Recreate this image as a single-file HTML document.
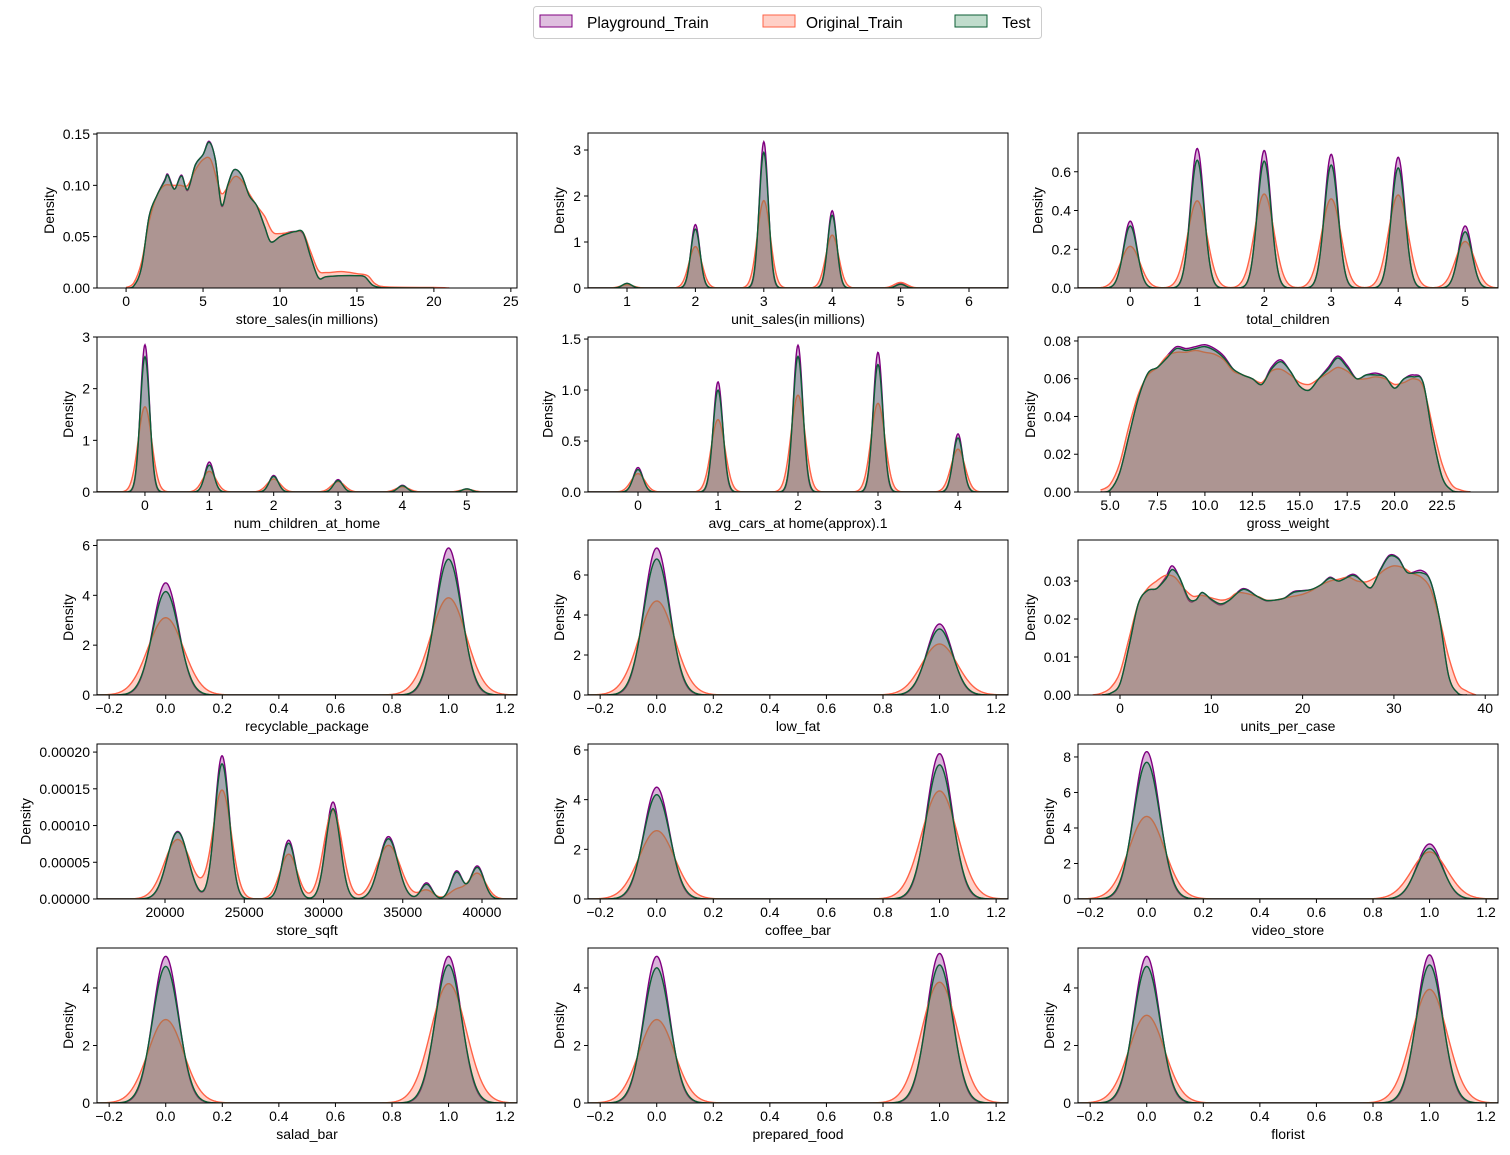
<!DOCTYPE html>
<html><head><meta charset="utf-8"><style>
html,body{margin:0;padding:0;background:#fff;}
svg{display:block;font-family:"Liberation Sans","DejaVu Sans",sans-serif;}
</style></head><body>
<svg id="fig" width="1510" height="1155" viewBox="0 0 1510 1155" xmlns="http://www.w3.org/2000/svg">
<g>
<rect x="533.5" y="6.5" width="508" height="32" rx="3" fill="#fff" stroke="#cccccc"/>
<g><rect x="540" y="15" width="32" height="12" fill="rgba(128,0,128,0.25)" stroke="#800080"/><text x="587" y="28" font-size="15.5">Playground_Train</text></g>
<g><rect x="763" y="15" width="32" height="12" fill="rgba(255,99,71,0.3)" stroke="#ff6347"/><text x="806" y="28" font-size="15.5">Original_Train</text></g>
<g><rect x="955" y="15" width="32" height="12" fill="rgba(46,139,87,0.3)" stroke="#0b5e35"/><text x="1002" y="28" font-size="15.5">Test</text></g>
</g>
<g id="plots"></g>
</svg>
<script>
// ---------- data ----------
const seriesNames = ["Playground_Train","Original_Train","Test"];
// continuous: store_sales
const ssX_play = [0,0.5,1,1.5,2,2.5,2.7,3,3.2,3.6,4,4.5,5,5.4,5.8,6.2,6.6,7,7.5,8,8.5,9,9.4,10,10.5,11,11.5,12,12.5,13,14,15,15.5,16,16.5,17,20];
const ssY_play = [0,0.002,0.02,0.07,0.09,0.105,0.111,0.1,0.097,0.11,0.095,0.12,0.13,0.143,0.125,0.08,0.1,0.115,0.11,0.09,0.08,0.06,0.045,0.05,0.054,0.055,0.053,0.03,0.01,0.011,0.012,0.012,0.011,0.003,0.0005,0.0002,0];
const ssX_orig = [0,0.5,1,1.5,2,2.5,3,3.5,4,4.5,5,5.5,6,6.3,7,7.5,8,8.5,9,9.5,10,11,11.5,12,12.5,13,14,15,15.7,16.2,17,20,21];
const ssY_orig = [0.0005,0.005,0.025,0.065,0.09,0.1,0.1,0.1,0.1,0.115,0.125,0.125,0.1,0.092,0.108,0.105,0.092,0.08,0.07,0.055,0.053,0.055,0.054,0.035,0.017,0.015,0.016,0.014,0.012,0.004,0.001,0.0005,0];
const ssX_test = [0,0.5,1,1.5,2,2.5,2.7,3,3.2,3.6,4,4.5,5,5.4,5.8,6.2,6.6,7,7.5,8,8.5,9,9.4,10,10.5,11,11.5,12,12.5,13,14,15,15.5,16,16.5,17,20];
const ssY_test = [0,0.002,0.02,0.07,0.09,0.104,0.11,0.099,0.097,0.109,0.096,0.12,0.13,0.142,0.125,0.081,0.1,0.115,0.11,0.09,0.08,0.06,0.045,0.05,0.053,0.055,0.054,0.03,0.01,0.011,0.012,0.012,0.011,0.003,0.0005,0.0002,0];
// continuous: gross_weight
const gwX = [4.5,5,5.5,6,6.5,7,7.5,8,8.5,9,9.5,10,10.5,11,11.5,12,12.5,13,13.5,14,14.5,15,15.5,16,16.5,17,17.5,18,18.5,19,19.5,20,20.5,21,21.5,22,22.5,23,23.5,24];
const gwY_play = [0,0.001,0.01,0.03,0.05,0.063,0.066,0.072,0.077,0.076,0.077,0.078,0.076,0.072,0.065,0.062,0.06,0.057,0.066,0.07,0.064,0.056,0.054,0.06,0.066,0.072,0.067,0.06,0.062,0.063,0.061,0.055,0.06,0.062,0.058,0.03,0.008,0.001,0,0];
const gwY_orig = [0.001,0.004,0.015,0.035,0.052,0.062,0.066,0.072,0.074,0.074,0.075,0.074,0.073,0.07,0.064,0.062,0.06,0.058,0.064,0.065,0.062,0.058,0.057,0.06,0.063,0.066,0.064,0.06,0.06,0.061,0.06,0.057,0.058,0.06,0.056,0.035,0.015,0.004,0.001,0];
const gwY_test = [0,0.001,0.01,0.03,0.05,0.063,0.066,0.071,0.076,0.075,0.076,0.077,0.075,0.071,0.065,0.062,0.06,0.057,0.065,0.069,0.064,0.056,0.054,0.06,0.065,0.071,0.066,0.06,0.062,0.062,0.061,0.055,0.06,0.061,0.058,0.03,0.008,0.001,0,0];
// continuous: units_per_case
const upX_play = [-2,-1,0,1,2,3,4,5,5.7,6.5,7.5,8.3,9,10,11,12,13.5,15,16,17,18,19,20,21,22,23,24,25.5,26.5,27.5,28.5,29.5,30.5,31.5,33,34,35,36,37,38];
const upY_play = [0,0.0005,0.003,0.013,0.024,0.0275,0.028,0.031,0.034,0.031,0.025,0.025,0.027,0.025,0.0237,0.025,0.028,0.026,0.0248,0.025,0.0255,0.0272,0.0275,0.0278,0.029,0.031,0.030,0.0318,0.030,0.0282,0.033,0.0368,0.036,0.0322,0.0328,0.03,0.02,0.005,0.0005,0];
const upX_orig = [-3,-2,-1,0,1,2,3,4,5,6,7,8,9,11,12,13,15,16,17,18,19,20,21,22,23,24,25,26,27,28,29,30,31,32,33,34,35,36,37,38,39];
const upY_orig = [0,0.0005,0.002,0.006,0.015,0.024,0.028,0.03,0.0315,0.031,0.028,0.026,0.0262,0.025,0.0255,0.027,0.026,0.025,0.025,0.0255,0.026,0.0265,0.0275,0.029,0.030,0.0305,0.031,0.030,0.0298,0.031,0.033,0.034,0.0335,0.032,0.031,0.028,0.02,0.01,0.003,0.001,0];
const upY_test = [0,0.0005,0.003,0.013,0.024,0.0275,0.028,0.0305,0.033,0.031,0.0255,0.025,0.027,0.0252,0.024,0.025,0.0278,0.026,0.0249,0.025,0.0255,0.027,0.0274,0.0278,0.029,0.0308,0.030,0.0315,0.030,0.0283,0.0328,0.0365,0.0358,0.0322,0.0322,0.03,0.02,0.005,0.0005,0];
// peak-type plots: centers and heights per series
const usC=[1,2,3,4,5], usW=[0.065,0.065,0.065,0.065,0.065];
const usPlay=[0.1,1.38,3.18,1.68,0.1], usOrig=[0.07,0.9,1.9,1.15,0.12], usTest=[0.1,1.28,2.95,1.58,0.08];
const tcC=[0,1,2,3,4,5], tcW=[0.1,0.1,0.1,0.1,0.1,0.1];
const tcPlay=[0.345,0.72,0.71,0.69,0.675,0.32], tcOrig=[0.215,0.45,0.485,0.46,0.48,0.24], tcTest=[0.32,0.66,0.655,0.635,0.62,0.29];
const ncC=[0,1,2,3,4,5], ncW=[0.07,0.07,0.07,0.07,0.07,0.07];
const ncPlay=[2.85,0.58,0.32,0.24,0.13,0.06], ncOrig=[1.65,0.4,0.25,0.2,0.1,0.05], ncTest=[2.62,0.52,0.3,0.22,0.12,0.06];
const acC=[0,1,2,3,4], acW=[0.06,0.06,0.06,0.06,0.06];
const acPlay=[0.24,1.08,1.44,1.37,0.57], acOrig=[0.18,0.71,0.95,0.87,0.42], acTest=[0.22,1.0,1.33,1.25,0.53];
const sqC=[20800,23600,27800,30600,34100,36500,38400,39700], sqW=[650,450,420,450,580,340,360,420];
const sqPlay=[0.000092,0.000195,0.00008,0.000132,0.000085,0.000022,0.000038,0.000045];
const sqOrig=[0.000081,0.000148,0.000061,0.000121,0.000073,0.000012,0.000012,0.000035];
const sqTest=[0.000091,0.000184,0.000076,0.000123,0.000082,0.00002,0.000036,0.000043];
const binC=[0,1], binW=[0.045,0.045];
const rpPlay=[4.5,5.9], rpOrig=[3.1,3.9], rpTest=[4.15,5.45];
const lfPlay=[7.35,3.55], lfOrig=[4.7,2.55], lfTest=[6.8,3.3];
const cbPlay=[4.5,5.85], cbOrig=[2.75,4.35], cbTest=[4.2,5.4];
const vsPlay=[8.3,3.1], vsOrig=[4.65,2.65], vsTest=[7.7,2.85];
const sbPlay=[5.1,5.1], sbOrig=[2.9,4.15], sbTest=[4.75,4.8];
const pfPlay=[5.1,5.2], pfOrig=[2.9,4.2], pfTest=[4.7,4.8];
const flPlay=[5.1,5.15], flOrig=[3.05,3.95], flTest=[4.75,4.8];
// tick labels
const ticks_ss_x=[0,5,10,15,20,25], ticks_ss_y=["0.00","0.05","0.10","0.15"];
const ticks_us_x=[1,2,3,4,5,6], ticks_us_y=["0","1","2","3"];
const ticks_tc_x=[0,1,2,3,4,5], ticks_tc_y=["0.0","0.2","0.4","0.6"];
const ticks_nc_x=[0,1,2,3,4,5], ticks_nc_y=["0","1","2","3"];
const ticks_ac_x=[0,1,2,3,4], ticks_ac_y=["0.0","0.5","1.0","1.5"];
const ticks_gw_x=["5.0","7.5","10.0","12.5","15.0","17.5","20.0","22.5"], ticks_gw_y=["0.00","0.02","0.04","0.06","0.08"];
const ticks_bin_x=["-0.2","0.0","0.2","0.4","0.6","0.8","1.0","1.2"];
const ticks_up_x=[0,10,20,30,40], ticks_up_y=["0.00","0.01","0.02","0.03"];
const ticks_sq_x=[20000,25000,30000,35000,40000], ticks_sq_y=["0.00000","0.00005","0.00010","0.00015","0.00020"];
const ticks_y_0246=["0","2","4","6"], ticks_y_02468=["0","2","4","6","8"], ticks_y_024=["0","2","4"];

// ---------- layout ----------
const colL=[97,588,1078], rowT=[133,337,540,744,948], AW=420, AH=155;
const COL=["#800080","#ff6347","#0b5e35"];
const FILL=["rgba(128,0,128,0.3)","rgba(255,99,71,0.3)","rgba(46,139,87,0.3)"];
const B=[-0.243,1.242];
const charts=[
 {n:"store_sales(in millions)",t:"cont",xl:[-1.89,25.4],yl:[0,0.151],xs:[ssX_play,ssX_orig,ssX_test],ys:[ssY_play,ssY_orig,ssY_test],tx:ticks_ss_x,ty:ticks_ss_y},
 {n:"unit_sales(in millions)",t:"peak",xl:[0.43,6.57],yl:[0,3.37],c:usC,w:usW,s:[1,1.45,1.05],h:[usPlay,usOrig,usTest],tx:ticks_us_x,ty:ticks_us_y},
 {n:"total_children",t:"peak",xl:[-0.78,5.49],yl:[0,0.8],c:tcC,w:tcW,s:[1,1.45,1.03],h:[tcPlay,tcOrig,tcTest],tx:ticks_tc_x,ty:ticks_tc_y},
 {n:"num_children_at_home",t:"peak",xl:[-0.745,5.78],yl:[0,3.0],c:ncC,w:ncW,s:[1,1.5,1.05],h:[ncPlay,ncOrig,ncTest],tx:ticks_nc_x,ty:ticks_nc_y},
 {n:"avg_cars_at home(approx).1",t:"peak",xl:[-0.625,4.625],yl:[0,1.52],c:acC,w:acW,s:[1,1.45,1.05],h:[acPlay,acOrig,acTest],tx:ticks_ac_x,ty:ticks_ac_y},
 {n:"gross_weight",t:"cont",xl:[3.31,25.45],yl:[0,0.0821],xs:[gwX,gwX,gwX],ys:[gwY_play,gwY_orig,gwY_test],tx:ticks_gw_x,ty:ticks_gw_y},
 {n:"recyclable_package",t:"peak",xl:B,yl:[0,6.22],c:binC,w:binW,s:[1,1.4,1.04],h:[rpPlay,rpOrig,rpTest],tx:ticks_bin_x,ty:ticks_y_0246},
 {n:"low_fat",t:"peak",xl:B,yl:[0,7.75],c:binC,w:binW,s:[1,1.4,1.04],h:[lfPlay,lfOrig,lfTest],tx:ticks_bin_x,ty:ticks_y_0246},
 {n:"units_per_case",t:"cont",xl:[-4.6,41.4],yl:[0,0.0408],xs:[upX_play,upX_orig,upX_play],ys:[upY_play,upY_orig,upY_test],tx:ticks_up_x,ty:ticks_up_y},
 {n:"store_sqft",t:"peak",xl:[15710,42208],yl:[0,0.000211],c:sqC,w:sqW,s:[1,1.3,1.02],h:[sqPlay,sqOrig,sqTest],tx:ticks_sq_x,ty:ticks_sq_y},
 {n:"coffee_bar",t:"peak",xl:B,yl:[0,6.24],c:binC,w:binW,s:[1,1.4,1.04],h:[cbPlay,cbOrig,cbTest],tx:ticks_bin_x,ty:ticks_y_0246},
 {n:"video_store",t:"peak",xl:B,yl:[0,8.73],c:binC,w:binW,s:[1,1.4,1.04],h:[vsPlay,vsOrig,vsTest],tx:ticks_bin_x,ty:ticks_y_02468},
 {n:"salad_bar",t:"peak",xl:B,yl:[0,5.39],c:binC,w:binW,s:[1,1.4,1.04],h:[sbPlay,sbOrig,sbTest],tx:ticks_bin_x,ty:ticks_y_024},
 {n:"prepared_food",t:"peak",xl:B,yl:[0,5.39],c:binC,w:binW,s:[1,1.4,1.04],h:[pfPlay,pfOrig,pfTest],tx:ticks_bin_x,ty:ticks_y_024},
 {n:"florist",t:"peak",xl:B,yl:[0,5.39],c:binC,w:binW,s:[1,1.4,1.04],h:[flPlay,flOrig,flTest],tx:ticks_bin_x,ty:ticks_y_024}
];
const NS="http://www.w3.org/2000/svg";
function mk(tag,at,parent){const e=document.createElementNS(NS,tag);for(const k in at)e.setAttribute(k,at[k]);if(parent)parent.appendChild(e);return e;}
function smooth(pts){let d="M"+pts[0][0].toFixed(2)+","+pts[0][1].toFixed(2);
 for(let i=0;i<pts.length-1;i++){const p0=pts[Math.max(0,i-1)],p1=pts[i],p2=pts[i+1],p3=pts[Math.min(pts.length-1,i+2)];
  const c1=[p1[0]+(p2[0]-p0[0])/6,p1[1]+(p2[1]-p0[1])/6],c2=[p2[0]-(p3[0]-p1[0])/6,p2[1]-(p3[1]-p1[1])/6];
  d+="C"+c1[0].toFixed(2)+","+c1[1].toFixed(2)+" "+c2[0].toFixed(2)+","+c2[1].toFixed(2)+" "+p2[0].toFixed(2)+","+p2[1].toFixed(2);}
 return d;}
const root=document.getElementById("plots");
charts.forEach((ch,idx)=>{
 const L=colL[idx%3],T=rowT[Math.floor(idx/3)],R=L+AW,Bt=T+AH;
 const sx=v=>L+(v-ch.xl[0])/(ch.xl[1]-ch.xl[0])*AW;
 const sy=v=>Bt-(v-ch.yl[0])/(ch.yl[1]-ch.yl[0])*AH;
 const g=mk("g",{},root);
 
 
 mk("clipPath",{id:"cp"+idx},g).appendChild(mk("rect",{x:L,y:T,width:AW,height:AH}));
 const pg=mk("g",{"clip-path":"url(#cp"+idx+")"},g);
 for(let s=0;s<3;s++){
  let pts=[];
  if(ch.t==="cont"){const X=ch.xs[s],Y=ch.ys[s];for(let i=0;i<X.length;i++)pts.push([sx(X[i]),sy(Y[i])]);}
  else{const N=700;for(let i=0;i<=N;i++){const x=ch.xl[0]+(ch.xl[1]-ch.xl[0])*i/N;let y=0;
    for(let k=0;k<ch.c.length;k++){const sg=ch.w[k]*ch.s[s];y+=ch.h[s][k]*Math.exp(-((x-ch.c[k])**2)/(2*sg*sg));}
    pts.push([sx(x),sy(y)]);}}
  const line=ch.t==="cont"?smooth(pts):"M"+pts.map(p=>p[0].toFixed(2)+","+p[1].toFixed(2)).join("L");
  const area=mk("path",{d:line+"L"+pts[pts.length-1][0].toFixed(2)+","+Bt+"L"+pts[0][0].toFixed(2)+","+Bt+"Z",fill:FILL[s],stroke:"none"},pg);
  
  
  const ln=mk("path",{d:line,fill:"none",stroke:COL[s],"stroke-width":1.4},pg);
  
  
 }
 const fr=mk("rect",{x:L,y:T,width:AW,height:AH,fill:"none",stroke:"#000","stroke-width":1},g);
 
 
 ch.tx.forEach(t=>{const v=parseFloat(t),x=sx(v);
  mk("line",{x1:x,y1:Bt,x2:x,y2:Bt+4,stroke:"#000"},g);
  const tl=mk("text",{x:x,y:Bt+18,"font-size":14,"text-anchor":"middle"},g);tl.textContent=String(t).replace("-","\u2212");
  
  });
 let maxw=0;
 ch.ty.forEach((t,i)=>{const v=parseFloat(t),y=sy(v);
  mk("line",{x1:L-4,y1:y,x2:L,y2:y,stroke:"#000"},g);
  const tl=mk("text",{x:L-7,y:y+5,"font-size":14,"text-anchor":"end"},g);tl.textContent=t;
  
  
  maxw=Math.max(maxw,tl.getComputedTextLength());});
 const xl=mk("text",{x:L+AW/2,y:Bt+36,"font-size":14,"text-anchor":"middle"},g);xl.textContent=ch.n;
 
 
 const yx=L-7-maxw-9;
 const yl=mk("text",{x:yx,y:T+AH/2,"font-size":14,"text-anchor":"middle",transform:"rotate(-90 "+yx+" "+(T+AH/2)+")"},g);yl.textContent="Density";
 
 
});
</script>
</body></html>
